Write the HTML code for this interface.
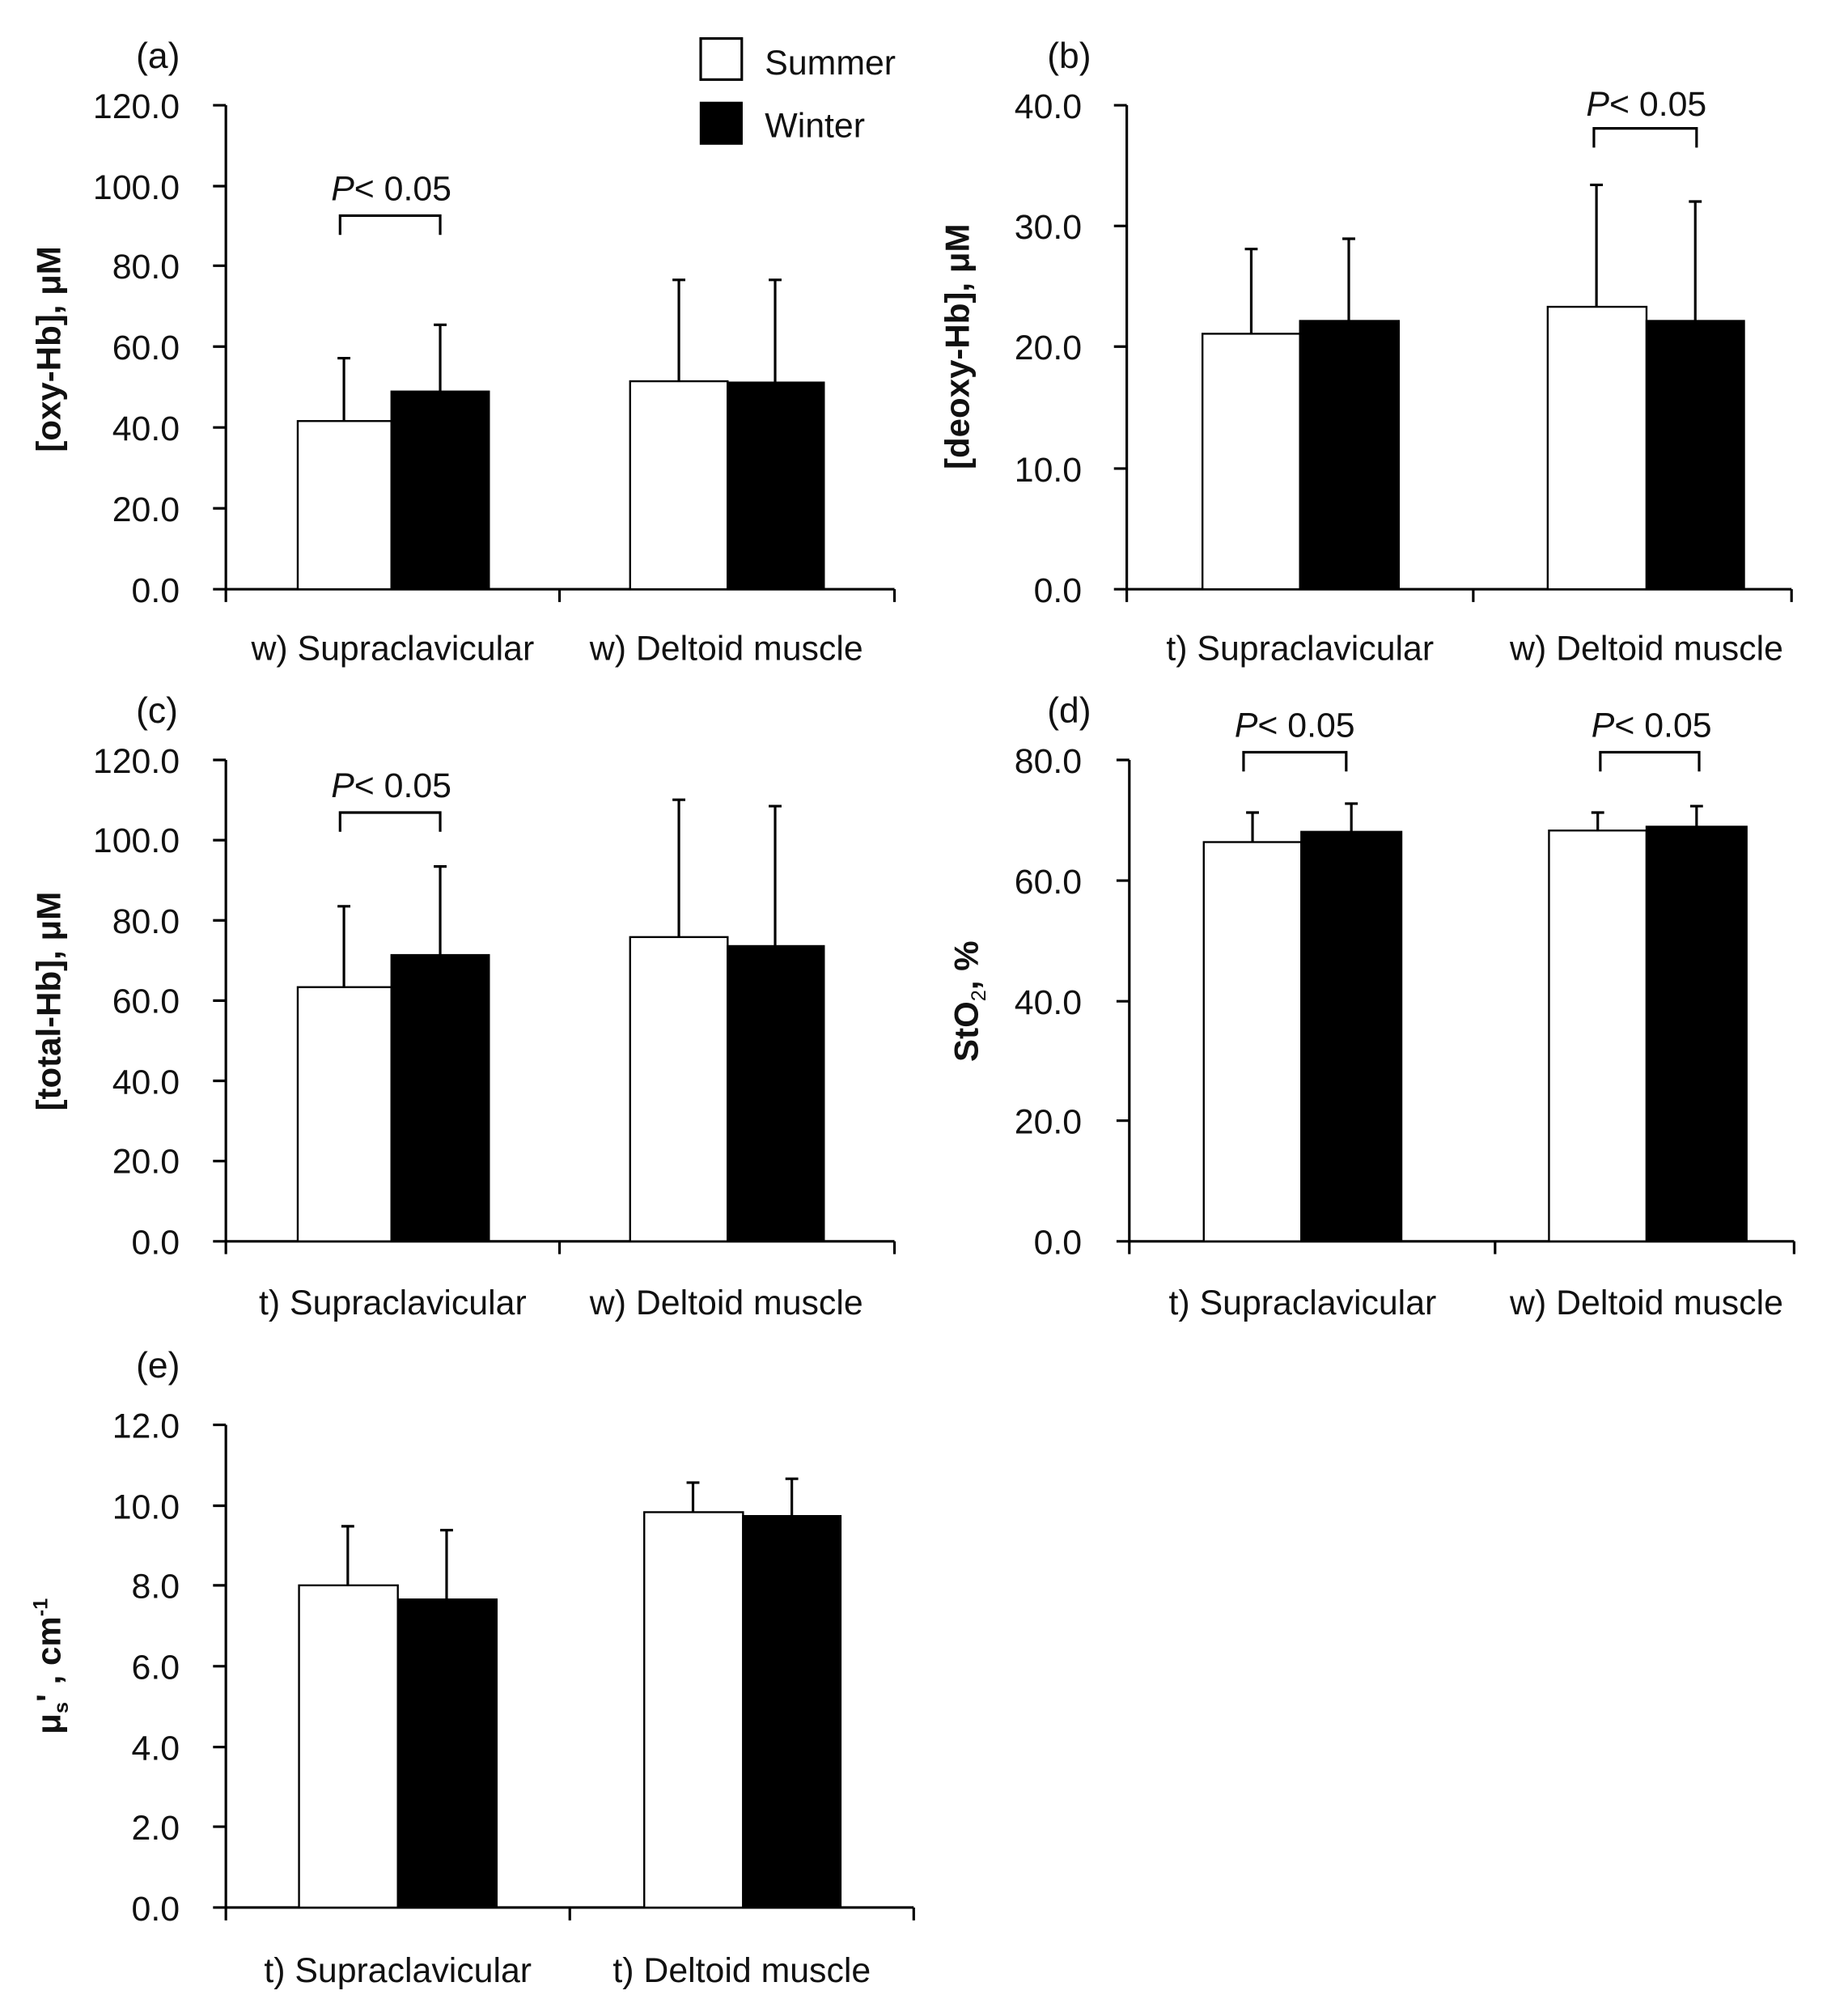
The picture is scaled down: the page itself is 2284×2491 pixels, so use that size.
<!DOCTYPE html>
<html><head><meta charset="utf-8"><style>html,body{margin:0;padding:0;background:#fff}svg{display:block}</style></head>
<body>
<svg width="2284" height="2491" viewBox="0 0 1440 1570.5" preserveAspectRatio="none" xmlns="http://www.w3.org/2000/svg" font-family="Liberation Sans, Arial, sans-serif" fill="#111">
<g stroke="#000" stroke-width="2" fill="none">
<path d="M176 82V459M176 459H697M436 459v10M697 459v10M176 459v10"/>
<path d="M166 82h10M166 145h10M166 207h10M166 270h10M166 333h10M166 396h10M166 459h10"/>
<path d="M878 82V459M878 459H1396M1148 459v10M1396 459v10M878 459v10"/>
<path d="M868 82h10M868 176h10M868 270h10M868 365h10M868 459h10"/>
<path d="M176 592V967M176 967H697M436 967v10M697 967v10M176 967v10"/>
<path d="M166 592h10M166 654.5h10M166 717h10M166 779.5h10M166 842h10M166 904.5h10M166 967h10"/>
<path d="M880 592V967M880 967H1398M1165 967v10M1398 967v10M880 967v10"/>
<path d="M870 592h10M870 686h10M870 780h10M870 873h10M870 967h10"/>
<path d="M176 1110V1486M176 1486H712M444 1486v10M712 1486v10M176 1486v10"/>
<path d="M166 1110h10M166 1173h10M166 1235h10M166 1298h10M166 1361h10M166 1423h10M166 1486h10"/>
<path d="M265 183v-15h78v15M1242 115v-15h80v15M265 648v-15h78v15M969 601v-15h80v15M1247 601v-15h77v15"/>
</g>
<g stroke="#000" stroke-width="1.5">
<path d="M268 328V279M263 279h10M343 305V253M338 253h10M529 297V218M524 218h10M604 298V218M599 218h10" stroke-width="2"/>
<rect x="232" y="328" width="73" height="131" fill="#fff"/>
<rect x="305" y="305" width="76" height="154" fill="#000"/>
<rect x="491" y="297" width="76" height="162" fill="#fff"/>
<rect x="567" y="298" width="75" height="161" fill="#000"/>
<path d="M975 260V194M970 194h10M1051 250V186M1046 186h10M1244 239V144M1239 144h10M1321 250V157M1316 157h10" stroke-width="2"/>
<rect x="937" y="260" width="76" height="199" fill="#fff"/>
<rect x="1013" y="250" width="77" height="209" fill="#000"/>
<rect x="1206" y="239" width="77" height="220" fill="#fff"/>
<rect x="1283" y="250" width="76" height="209" fill="#000"/>
<path d="M268 769V706M263 706h10M343 744V675M338 675h10M529 730V623M524 623h10M604 737V628M599 628h10" stroke-width="2"/>
<rect x="232" y="769" width="73" height="198" fill="#fff"/>
<rect x="305" y="744" width="76" height="223" fill="#000"/>
<rect x="491" y="730" width="76" height="237" fill="#fff"/>
<rect x="567" y="737" width="75" height="230" fill="#000"/>
<path d="M976 656V633M971 633h10M1053 648V626M1048 626h10M1245 647V633M1240 633h10M1322 644V628M1317 628h10" stroke-width="2"/>
<rect x="938" y="656" width="76" height="311" fill="#fff"/>
<rect x="1014" y="648" width="78" height="319" fill="#000"/>
<rect x="1207" y="647" width="76" height="320" fill="#fff"/>
<rect x="1283" y="644" width="78" height="323" fill="#000"/>
<path d="M271 1235V1189M266 1189h10M348 1246V1192M343 1192h10M540 1178V1155M535 1155h10M617 1181V1152M612 1152h10" stroke-width="2"/>
<rect x="233" y="1235" width="77" height="251" fill="#fff"/>
<rect x="310" y="1246" width="77" height="240" fill="#000"/>
<rect x="502" y="1178" width="77" height="308" fill="#fff"/>
<rect x="579" y="1181" width="76" height="305" fill="#000"/>
<rect x="546" y="30" width="32" height="32" fill="#fff" stroke-width="2"/>
<rect x="546" y="80" width="32" height="32" fill="#000"/>
</g>
<g font-size="27">
<text x="596" y="58">Summer</text>
<text x="596" y="107">Winter</text>
<text x="106" y="53" font-size="28">(a)</text><text x="816" y="53" font-size="28">(b)</text>
<text x="106" y="563" font-size="28">(c)</text><text x="816" y="563" font-size="28">(d)</text>
<text x="106" y="1073" font-size="28">(e)</text>
</g>
<g font-size="27" text-anchor="end">
<text x="140" y="92">120.0</text><text x="140" y="155">100.0</text><text x="140" y="217">80.0</text><text x="140" y="280">60.0</text><text x="140" y="343">40.0</text><text x="140" y="406">20.0</text><text x="140" y="469">0.0</text>
<text x="843" y="92">40.0</text><text x="843" y="186">30.0</text><text x="843" y="280">20.0</text><text x="843" y="375">10.0</text><text x="843" y="469">0.0</text>
<text x="140" y="602">120.0</text><text x="140" y="664">100.0</text><text x="140" y="727">80.0</text><text x="140" y="789">60.0</text><text x="140" y="852">40.0</text><text x="140" y="914">20.0</text><text x="140" y="977">0.0</text>
<text x="843" y="602">80.0</text><text x="843" y="696">60.0</text><text x="843" y="790">40.0</text><text x="843" y="883">20.0</text><text x="843" y="977">0.0</text>
<text x="140" y="1120">12.0</text><text x="140" y="1183">10.0</text><text x="140" y="1245">8.0</text><text x="140" y="1308">6.0</text><text x="140" y="1371">4.0</text><text x="140" y="1433">2.0</text><text x="140" y="1496">0.0</text>
</g>
<g font-size="27" text-anchor="middle">
<text x="306" y="514">w) Supraclavicular</text><text x="566" y="514">w) Deltoid muscle</text>
<text x="1013" y="514">t) Supraclavicular</text><text x="1283" y="514">w) Deltoid muscle</text>
<text x="306" y="1024">t) Supraclavicular</text><text x="566" y="1024">w) Deltoid muscle</text>
<text x="1015" y="1024">t) Supraclavicular</text><text x="1283" y="1024">w) Deltoid muscle</text>
<text x="310" y="1544">t) Supraclavicular</text><text x="578" y="1544">t) Deltoid muscle</text>
</g>
<g font-size="27">
<text x="258" y="156"><tspan font-style="italic">P</tspan>&lt; 0.05</text>
<text x="1236" y="90"><tspan font-style="italic">P</tspan>&lt; 0.05</text>
<text x="258" y="621"><tspan font-style="italic">P</tspan>&lt; 0.05</text>
<text x="962" y="574"><tspan font-style="italic">P</tspan>&lt; 0.05</text>
<text x="1240" y="574"><tspan font-style="italic">P</tspan>&lt; 0.05</text>
</g>
<g font-size="26.5" font-weight="bold" text-anchor="middle">
<text transform="translate(47 272) rotate(-90)">[oxy-Hb], μM</text>
<text transform="translate(755 270) rotate(-90)">[deoxy-Hb], μM</text>
<text transform="translate(47 780) rotate(-90)">[total-Hb], μM</text>
<text transform="translate(762 780) rotate(-90)">StO<tspan font-size="16" font-weight="normal" dy="6">2</tspan><tspan dy="-6">, %</tspan></text>
<text transform="translate(47 1298) rotate(-90)">μ<tspan font-size="16" dy="6">s</tspan><tspan dy="-6">' , cm</tspan><tspan font-size="16" dy="-10">-1</tspan></text>
</g>
</svg>
</body></html>
